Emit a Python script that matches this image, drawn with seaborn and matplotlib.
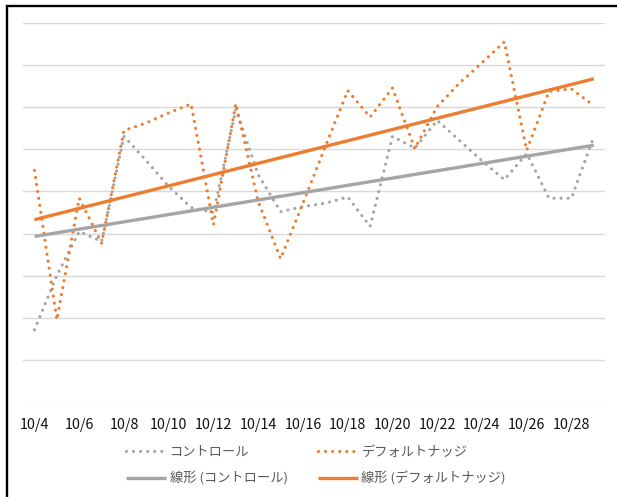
import numpy as np
import pandas as pd
import seaborn as sns
import matplotlib
matplotlib.use("Agg")
import matplotlib.pyplot as plt
from matplotlib.patches import Rectangle

# ---- data (y in gridline units, axis has no labels) ----
dates = ["10/4", "10/5", "10/6", "10/7", "10/8", "10/9", "10/10", "10/11", "10/12",
         "10/13", "10/14", "10/15", "10/16", "10/17", "10/18", "10/19", "10/20",
         "10/21", "10/22", "10/23", "10/24", "10/25", "10/26", "10/27", "10/28", "10/29"]
control = [1.71, 3.00, 4.05, 3.81, 6.31, 5.73, 5.12, 4.62, 4.50, 6.95, 5.40, 4.52, 4.64,
           4.72, 4.87, 4.17, 6.31, 6.03, 6.69, 6.21, 5.73, 5.28, 5.90, 4.84, 4.84, 6.31]
nudge = [5.50, 1.95, 4.84, 3.77, 6.45, 6.63, 6.87, 7.08, 4.21, 7.09, 4.76, 3.40, 4.72,
         6.07, 7.40, 6.77, 7.46, 6.02, 7.02, 7.58, 8.06, 8.56, 5.98, 7.38, 7.44, 7.04]
# linear trend lines as drawn in the reference (values at first and last date)
trend_dates = ["10/4", "10/29"]
trend_control = [3.93, 6.10]
trend_nudge = [4.33, 7.68]
series_names = ["コントロール", "デフォルトナッジ"]
trend_names = ["線形 (コントロール)", "線形 (デフォルトナッジ)"]
tick_labels = dates[::2]

GRAY = "#A5A5A5"
ORANGE = "#ED7D31"

sns.set_theme(style="white")
plt.rcParams["font.family"] = ["Noto Sans CJK JP", "DejaVu Sans"]

df = pd.DataFrame({"day": np.arange(len(dates)), "date": dates,
                   "control": control, "nudge": nudge})
tdf = pd.DataFrame({"day": [dates.index(d) for d in trend_dates],
                    "control": trend_control, "nudge": trend_nudge})

fig = plt.figure(figsize=(6.17, 4.97), dpi=100)
ax = fig.add_axes([23.3 / 617, 1 - 401.7 / 497, (605 - 23.3) / 617, (401.7 - 23.3) / 497])

dot_style = (0, (0.01, 2.2))
for col, color, name in [("control", GRAY, series_names[0]), ("nudge", ORANGE, series_names[1])]:
    sns.lineplot(data=df, x="day", y=col, ax=ax, color=color, lw=2.3,
                 label=name, legend=False, zorder=3)
    ln = ax.lines[-1]
    ln.set_linestyle(dot_style)
    ln.set_dash_capstyle("round")

for col, color, name in [("control", GRAY, trend_names[0]), ("nudge", ORANGE, trend_names[1])]:
    sns.lineplot(data=tdf, x="day", y=col, ax=ax, color=color, lw=2.4,
                 label=name, legend=False, zorder=4)
    ax.lines[-1].set_solid_capstyle("butt")

ax.set_xlim(-0.5, len(dates) - 0.5)
ax.set_ylim(0, 9)
ax.set_yticks(np.arange(0, 10))
ax.set_yticklabels([])
ax.grid(False)
ax.yaxis.grid(True, color="#D9D9D9", lw=1.0)
ax.set_axisbelow(True)
ax.set_xticks(np.arange(0, len(dates), 2))
ax.set_xticklabels(tick_labels, fontsize=10.3, color="#111111")
ax.tick_params(axis="x", length=0, pad=12)
ax.tick_params(axis="y", length=0)
ax.set_xlabel("")
ax.set_ylabel("")
for s in ax.spines.values():
    s.set_visible(False)

handles, labels = ax.get_legend_handles_labels()
lut = dict(zip(labels, handles))
order = [series_names[0], trend_names[0], series_names[1], trend_names[1]]
leg = fig.legend([lut[k] for k in order], order, loc="center",
                 bbox_to_anchor=(316 / 617, 1 - 466 / 497), ncol=2, frameon=False,
                 fontsize=9.5, handlelength=3.0, handletextpad=0.3, columnspacing=2.3,
                 labelspacing=0.97, borderpad=0)
for t in leg.get_texts():
    t.set_color("#595959")

# outer chart border
fig.patches.append(Rectangle((7.0 / 617, -0.02), 1.05, (497 - 6.2) / 497 + 0.02,
                             transform=fig.transFigure, fill=False, ec="black", lw=1.7))

fig.savefig("out.png", dpi=100)
